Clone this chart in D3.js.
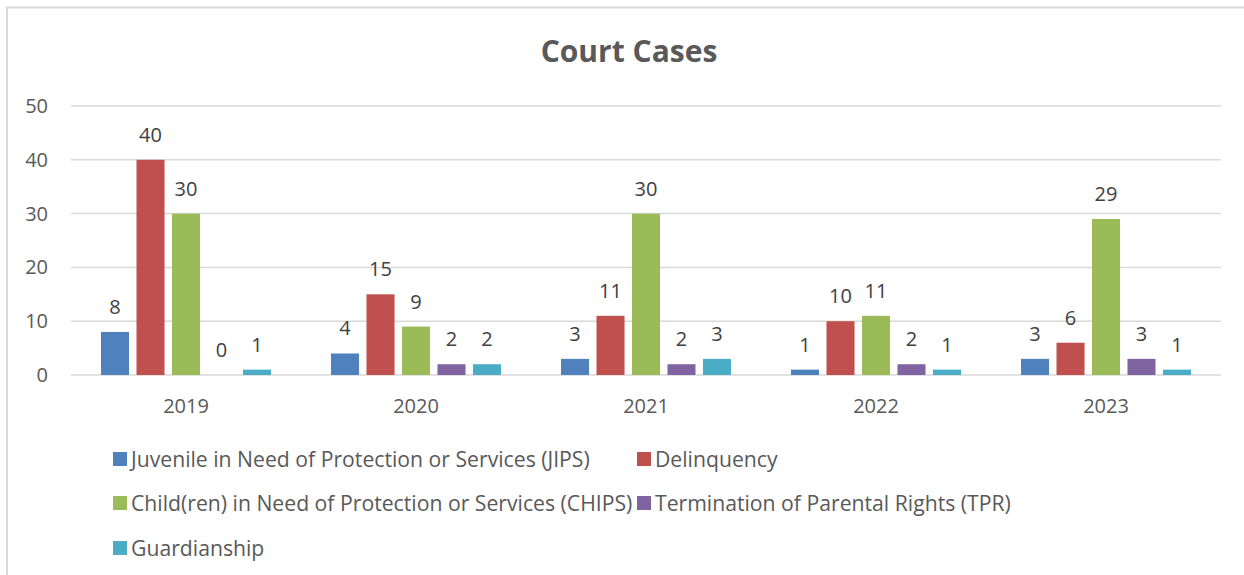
<!DOCTYPE html>
<html>
<head>
<meta charset="utf-8">
<script src="https://cdn.jsdelivr.net/npm/d3@7"></script>
<style>
  body { margin: 0; background: #fff; }
  svg { display: block; font-family: "Open Sans", sans-serif; }
</style>
</head>
<body>
<div id="chart"></div>
<script>
var years = ["2019", "2020", "2021", "2022", "2023"];
var seriesNames = [
  "Juvenile in Need of Protection or Services (JIPS)",
  "Delinquency",
  "Child(ren) in Need of Protection or Services (CHIPS)",
  "Termination of Parental Rights (TPR)",
  "Guardianship"
];
var jips = [8, 4, 3, 1, 3];
var delinquency = [40, 15, 11, 10, 6];
var chips = [30, 9, 30, 11, 29];
var tpr = [0, 2, 2, 2, 3];
var guardianship = [1, 2, 3, 1, 1];
var yTicks = [0, 10, 20, 30, 40, 50];
var fills = ["#4F81BD", "#C0504D", "#9BBB59", "#8064A2", "#4BACC6"];

var allSeries = [jips, delinquency, chips, tpr, guardianship];

var width = 1244, height = 575;
var svg = d3.select("#chart").append("svg")
  .attr("width", width)
  .attr("height", height);

// chart frame
svg.append("rect")
  .attr("x", 7).attr("y", 7.5)
  .attr("width", 1260).attr("height", 600)
  .attr("fill", "none")
  .attr("stroke", "#d9d9d9")
  .attr("stroke-width", 2);

svg.append("text")
  .attr("x", 629).attr("y", 62)
  .attr("text-anchor", "middle")
  .attr("font-size", 30)
  .attr("font-weight", "bold")
  .attr("fill", "#595959")
  .text("Court Cases");

var x0 = d3.scaleBand().domain(years).range([71, 1221]).padding(0);
var x1 = d3.scaleBand().domain(d3.range(5))
  .range([30, x0.bandwidth() - 30])
  .paddingInner(0.21).paddingOuter(0);
var y = d3.scaleLinear().domain([0, 50]).range([375, 106]);

// gridlines
svg.append("g").selectAll("line").data(yTicks).enter()
  .append("line")
  .attr("x1", 71).attr("x2", 1221)
  .attr("y1", d => y(d)).attr("y2", d => y(d))
  .attr("stroke", "#d9d9d9")
  .attr("stroke-width", 1.5);

// y labels
svg.append("g").selectAll("text").data(yTicks).enter()
  .append("text")
  .attr("x", 48).attr("y", d => y(d) + 7)
  .attr("text-anchor", "end")
  .attr("font-size", 20)
  .attr("fill", "#595959")
  .text(d => d);

// x labels
svg.append("g").selectAll("text").data(years).enter()
  .append("text")
  .attr("x", d => x0(d) + x0.bandwidth() / 2)
  .attr("y", 413)
  .attr("text-anchor", "middle")
  .attr("font-size", 20)
  .attr("fill", "#595959")
  .text(d => d);

// bars
var groups = svg.selectAll(".year").data(years).enter()
  .append("g")
  .attr("class", "year")
  .attr("transform", d => `translate(${x0(d)},0)`);

groups.each(function(yr, yi) {
  var g = d3.select(this);
  allSeries.forEach((s, si) => {
    var v = s[yi];
    g.append("rect")
      .attr("x", x1(si))
      .attr("y", y(v))
      .attr("width", x1.bandwidth())
      .attr("height", y(0) - y(v))
      .attr("fill", fills[si]);
    g.append("text")
      .attr("x", x1(si) + x1.bandwidth() / 2)
      .attr("y", y(v) - 18)
      .attr("text-anchor", "middle")
      .attr("font-size", 20)
      .attr("fill", "#404040")
      .text(v);
  });
});

// legend
var legendPos = [[113, 459], [637, 459], [113, 503], [637, 503], [113, 548]];
var legend = svg.append("g").selectAll("g").data(seriesNames).enter()
  .append("g")
  .attr("transform", (d, i) => `translate(${legendPos[i][0]},${legendPos[i][1]})`);
legend.append("rect")
  .attr("x", 0).attr("y", -7)
  .attr("width", 14).attr("height", 14)
  .attr("fill", (d, i) => fills[i]);
legend.append("text")
  .attr("x", 18).attr("y", 7.5)
  .attr("font-size", 21.2)
  .attr("fill", "#595959")
  .text(d => d);
</script>
</body>
</html>
